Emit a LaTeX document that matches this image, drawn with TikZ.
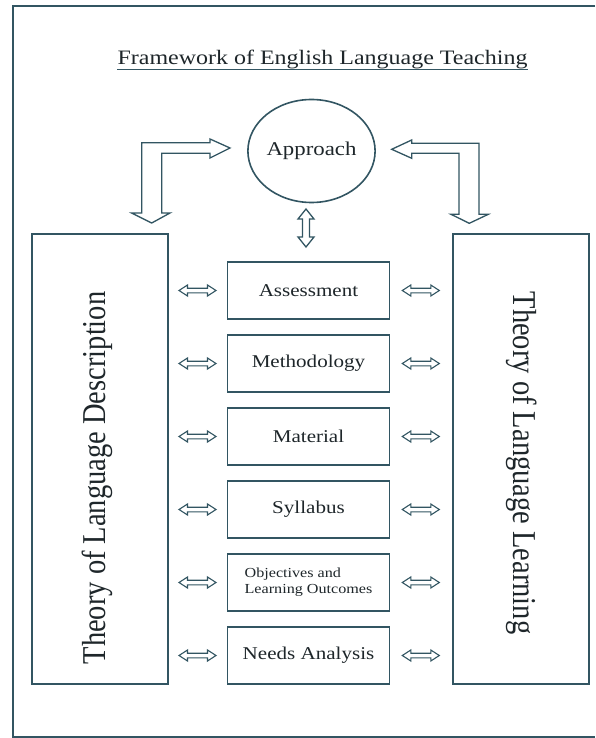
\documentclass[tikz,border=0pt]{standalone}
\usepackage{fontspec}
\setmainfont{Liberation Serif}
\usepackage{graphicx}
\usetikzlibrary{shapes.geometric}
\definecolor{ln}{RGB}{50,85,98}
\definecolor{tx}{RGB}{30,38,42}
\newcommand\stx[1]{\scalebox{1.17}[1]{#1}}
\begin{document}
\begin{tikzpicture}[x=1pt,y=-1pt,line join=miter,
  box/.style={draw=ln,line width=1.6pt,fill=white,minimum width=162pt,minimum height=57pt,inner sep=0pt,text=tx,font=\fontsize{18}{20}\selectfont},
  side/.style={draw=ln,line width=1.6pt,minimum width=136pt,minimum height=450pt,inner sep=0pt},
  sidetext/.style={text=tx,inner sep=0pt,font=\fontsize{28.5}{30}\selectfont},
  blockarrow/.style={draw=ln,line width=1.3pt,fill=white}]
\useasboundingbox (0,0) rectangle (595,738);
\fill[white] (0,0) rectangle (595,738);
% outer frame
\draw[ln,line width=1.6pt] (595,6) -- (13,6) -- (13,737) -- (595,737);
% title
\node[text=tx,anchor=base,inner sep=0pt,font=\fontsize{20.5}{24}\selectfont] (title) at (322.5,65) {\stx{Framework of English Language Teaching}};
\draw[ln,line width=1pt] ([yshift=-5pt]title.base west) -- ([yshift=-5pt]title.base east);
% approach
\node[draw=ln,line width=1.6pt,ellipse,minimum width=123pt,minimum height=103pt,inner sep=0pt,text=tx,font=\fontsize{19.5}{22}\selectfont] (app) at (311.5,151) {\stx{Approach}};
% side boxes
\node[side] (desc) at (100,459) {};
\node[sidetext] (desct) at (97,478) {\stx{\rotatebox{90}{Theory of Language Description}}};
\node[side] (learn) at (520.75,459) {};
\node[sidetext] (learnt) at (522,463) {\stx{\rotatebox{-90}{Theory of Language Learning}}};
% center boxes
\node[box] (ass) at (308.5,290.5) {\stx{Assessment}};
\node[box] (meth) at (308.5,363.5) {\stx{Methodology}};
\node[box] (mat) at (308.5,436.5) {\stx{Material}};
\node[box] (syl) at (308.5,509.5) {\stx{Syllabus}};
\node[box,align=left,font=\fontsize{13.8}{16}\selectfont] (obj) at (308.5,582.5) {\stx{Objectives and}\\\stx{Learning Outcomes}};
\node[box] (need) at (308.5,655.5) {\stx{Needs Analysis}};
% L-shaped block arrows
\draw[blockarrow] (141.7,213) -- (141.7,142.7) -- (210,142.7) -- (210,139) -- (230,148) -- (210,158) -- (210,153.3) -- (161.7,153.3) -- (161.7,213) -- (170,213) -- (151.7,223) -- (131.7,213) -- cycle;
\draw[blockarrow] (391.7,149.3) -- (411.7,140) -- (411.7,143.3) -- (479,143.3) -- (479,214.3) -- (488.3,214.3) -- (469.3,223.3) -- (451,214.3) -- (459,214.3) -- (459,153.3) -- (411.7,153.3) -- (411.7,158.3) -- cycle;
% vertical double arrow
\draw[blockarrow] (306,209) -- (314,219) -- (309.5,219) -- (309.5,237) -- (314,237) -- (306,247) -- (298,237) -- (302.5,237) -- (302.5,219) -- (298,219) -- cycle;
% horizontal double arrows
\foreach \n in {ass,meth,mat,syl,obj,need}{
  \path (\n.west) ++(-29.2,0) coordinate (L\n) (\n.east) ++(30.5,0) coordinate (R\n);
  \foreach \c in {L\n,R\n}{
    \draw[blockarrow,line width=1.1pt] ([xshift=-18.5pt]\c) -- ([xshift=-10pt,yshift=5.5pt]\c) -- ([xshift=-10pt,yshift=2.3pt]\c) -- ([xshift=10pt,yshift=2.3pt]\c) -- ([xshift=10pt,yshift=5.5pt]\c) -- ([xshift=18.5pt]\c) -- ([xshift=10pt,yshift=-5.5pt]\c) -- ([xshift=10pt,yshift=-2.3pt]\c) -- ([xshift=-10pt,yshift=-2.3pt]\c) -- ([xshift=-10pt,yshift=-5.5pt]\c) -- cycle;
  }
}
\end{tikzpicture}
\end{document}
